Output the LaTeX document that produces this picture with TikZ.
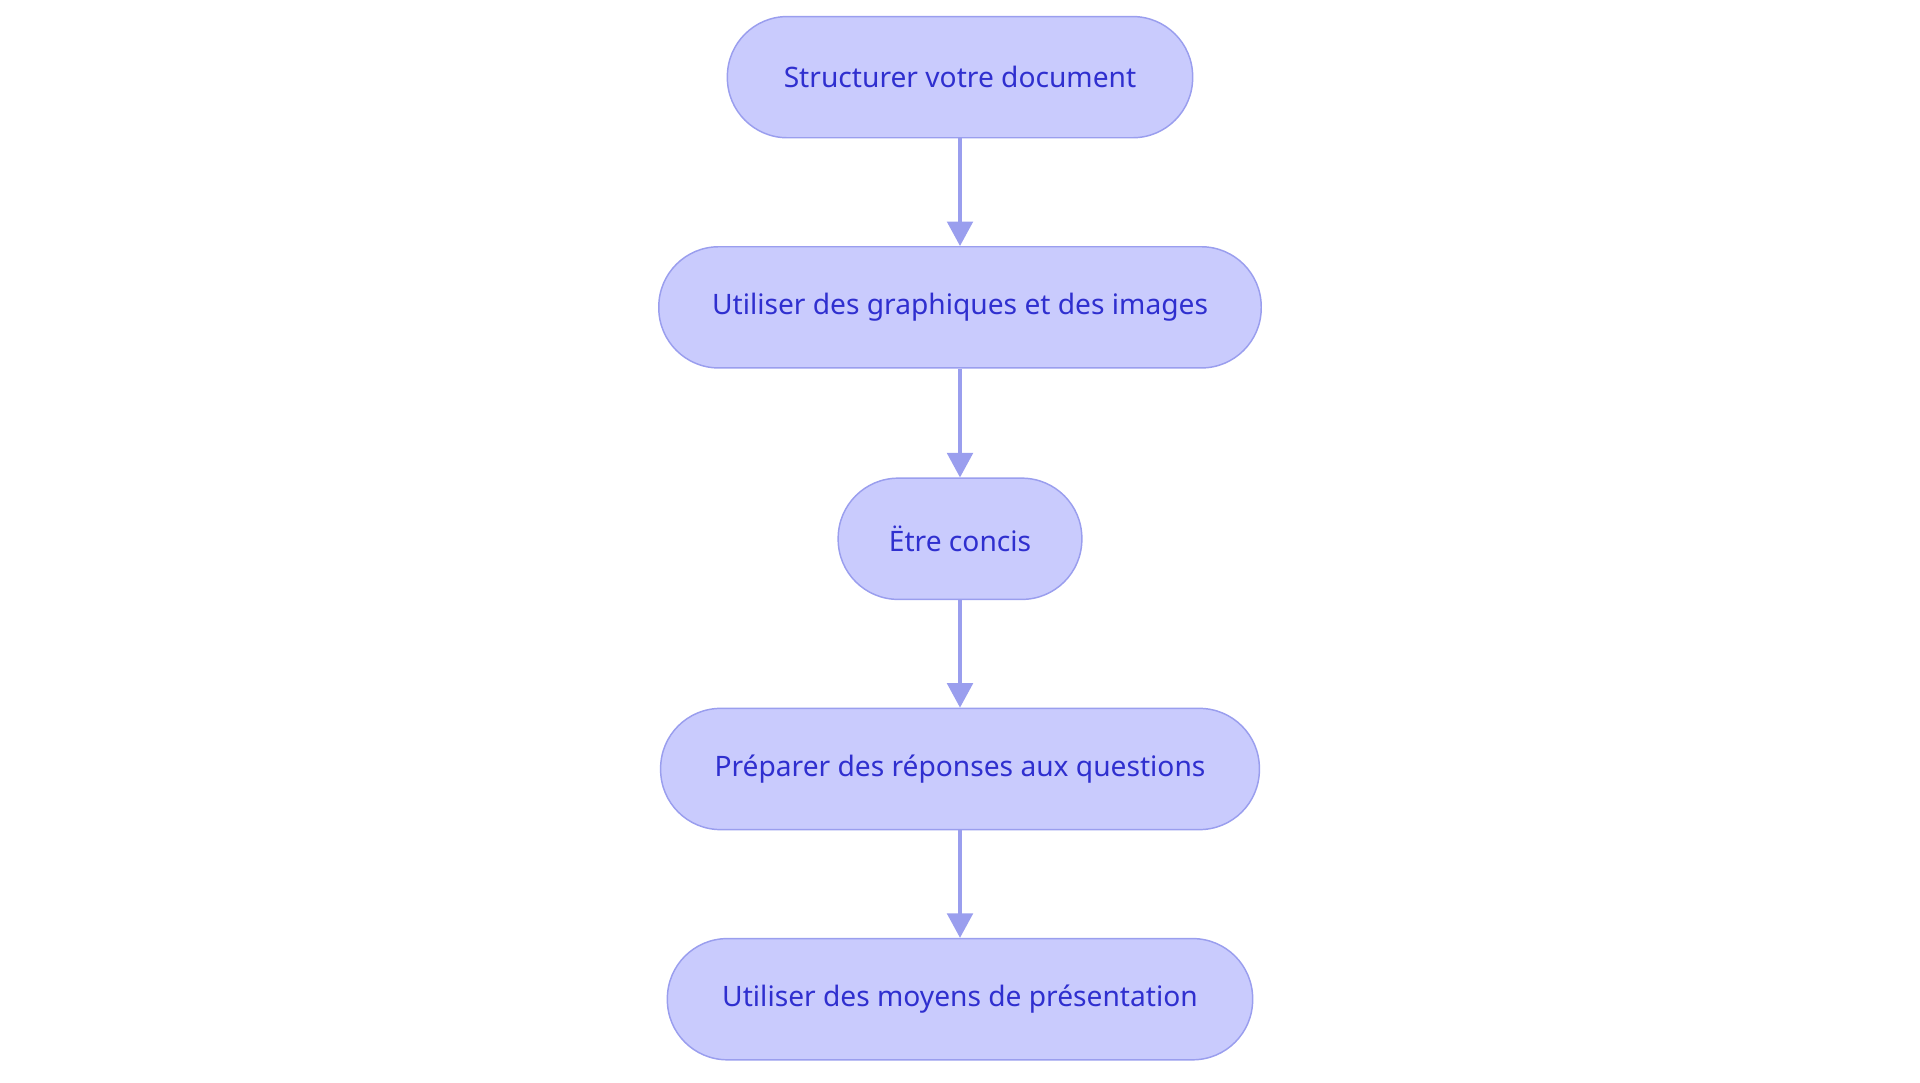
\documentclass[tikz,border=0pt]{standalone}
\usepackage{fontspec}
\setmainfont{Noto Sans}
\usetikzlibrary{arrows.meta,positioning}
\definecolor{boxfill}{HTML}{C9CBFD}
\definecolor{boxline}{HTML}{9A9EEE}
\definecolor{boxtext}{HTML}{2F2FCF}
\tikzset{stage/.style={draw=boxline, fill=boxfill, text=boxtext, line width=1.2pt,
  rounded corners=49pt, minimum height=99pt, inner sep=0pt, font=\fontsize{23}{28}\selectfont},
  flow/.style={draw=boxline, line width=2.6pt, -{Triangle[length=20pt,width=21pt]}}}
\begin{document}
\begin{tikzpicture}[x=1pt,y=-1pt]
\useasboundingbox (0,0) rectangle (1568,884);
\node[stage, minimum width=380pt] (struct) at (784,63) {Structurer votre document};
\node[stage, minimum width=492pt] (graph) at (784,251) {Utiliser des graphiques et des images};
\node[stage, minimum width=199pt] (concis) at (784,440) {Ëtre concis};
\node[stage, minimum width=489pt] (repon) at (784,628) {Préparer des réponses aux questions};
\node[stage, minimum width=478pt] (moyens) at (784,816) {Utiliser des moyens de présentation};
\draw[flow] (struct) -- (graph);
\draw[flow] (graph) -- (concis);
\draw[flow] (concis) -- (repon);
\draw[flow] (repon) -- (moyens);
\end{tikzpicture}
\end{document}
